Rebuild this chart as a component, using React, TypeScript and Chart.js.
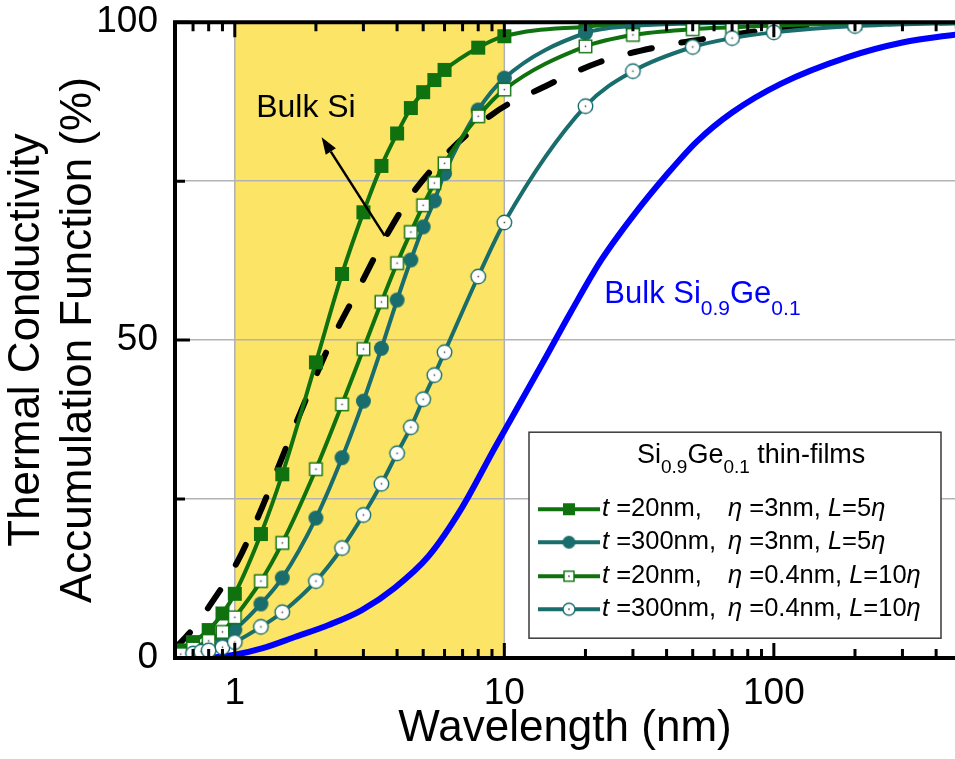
import React, { useEffect, useRef } from 'react';
import { Chart, registerables } from 'chart.js';

Chart.register(...registerables);

const FONT = '"Liberation Sans", Arial, Helvetica, sans-serif';
const GREEN = '#0f720f';
const TEAL = '#1a6d6d';
const BLUE = '#0000ff';
const YELLOW = '#fce566';

// ---- data ----
const X_A = [0.63, 0.7, 0.8, 0.9, 1.0, 1.25, 1.5, 2, 2.5, 3, 3.5, 4, 4.5, 5, 5.5, 6, 8, 10, 20, 30, 50, 70, 100, 200, 500];
const Y_A = [1.2, 2.5, 4.4, 7.0, 10.1, 19.5, 28.9, 46.5, 60.4, 70.1, 77.4, 82.5, 86.5, 89.0, 90.9, 92.5, 96.0, 97.8, 99.3, 99.7, 99.9, 100, 100, 100, 100];

const X_B = [0.63, 0.7, 0.8, 0.9, 1.0, 1.25, 1.5, 2, 2.5, 3, 3.5, 4, 4.5, 5, 5.5, 6, 8, 10, 20, 30, 50, 70, 100, 200, 500];
const Y_B = [0.5, 0.9, 1.6, 2.8, 4.4, 8.5, 12.6, 22.0, 31.5, 40.4, 48.7, 56.3, 62.6, 67.8, 71.9, 76.2, 86.2, 91.2, 98.3, 99.4, 99.8, 99.9, 100, 100, 100];

const X_C = [0.63, 0.7, 0.8, 0.9, 1.0, 1.25, 1.5, 2, 2.5, 3, 3.5, 4, 4.5, 5, 5.5, 6, 8, 10, 20, 30, 50, 70, 100, 200, 500];
const Y_C = [0.6, 1.5, 2.7, 4.1, 6.4, 12.1, 18.1, 29.7, 39.9, 48.6, 56.0, 62.1, 67.0, 71.2, 74.7, 77.8, 85.2, 89.4, 96.2, 98.0, 98.9, 99.2, 99.5, 99.8, 100];

const X_D = [0.7, 0.75, 0.8, 0.9, 1.0, 1.25, 1.5, 2, 2.5, 3, 3.5, 4, 4.5, 5, 5.5, 6, 8, 10, 20, 30, 50, 70, 100, 200, 500];
const Y_D = [0.7, 1.0, 1.2, 1.7, 2.5, 4.9, 7.2, 12.1, 17.3, 22.5, 27.4, 32.2, 36.3, 40.7, 44.5, 48.1, 60.0, 68.5, 86.8, 92.3, 96.1, 97.5, 98.4, 99.4, 99.9];

const X_BULK_SI = [0.6, 0.7, 0.8, 1.03, 1.26, 1.52, 1.88, 2.29, 2.83, 3.57, 4.72, 8.95, 14, 22.5, 37, 60, 106, 200, 500];
const Y_BULK_SI = [1.5, 4.6, 8.0, 15.4, 23.6, 32.2, 41.7, 50.0, 57.5, 65.7, 73.9, 85.4, 89.8, 93.7, 96.1, 97.6, 99.0, 99.7, 100];

const X_BULK_SIGE = [0.8, 1.0, 1.26, 1.67, 2.23, 2.95, 3.91, 5.23, 6.93, 9.2, 13.7, 17.7, 22.9, 30, 40, 52, 70, 106, 188, 300, 500];
const Y_BULK_SIGE = [0, 0.5, 1.5, 3.3, 5.2, 7.5, 11.0, 16.0, 23.5, 33.0, 46.0, 54.5, 62.6, 69.5, 76.0, 81.3, 85.8, 90.3, 94.5, 96.8, 98.2];

const X_TICKS = [1, 10, 100];
const X_MINOR = [0.7, 0.8, 0.9, 2, 3, 4, 5, 6, 7, 8, 9, 20, 30, 40, 50, 60, 70, 80, 90, 200, 300, 400];
const Y_TICKS = [0, 25, 50, 75, 100];
const Y_LABELS = [0, 50, 100];
const Y_MINOR = [25, 75];
const SHADE_RANGE = [1, 10];

const BULK_SI_LABEL = { x: 1.2, y: 85.1 };
const BULK_SIGE_LABEL = { x: 23.5, y: 55.8 };
const ARROW = { x1: 3.6, y1: 66.4, x2: 2.1, y2: 81.9 };

const LEGEND_ROWS = [
  { t: ' =20nm,', eta: ' =3nm, ', l: '=5' },
  { t: ' =300nm,', eta: ' =3nm, ', l: '=5' },
  { t: ' =20nm,', eta: ' =0.4nm, ', l: '=10' },
  { t: ' =300nm,', eta: ' =0.4nm, ', l: '=10' },
];

function pts(xs: number[], ys: number[]) {
  return xs.map((x, i) => ({ x, y: ys[i] }));
}

function makeMarker(kind: string, size: number, color: string) {
  const s = Math.ceil(size) + 4;
  const c = document.createElement('canvas');
  c.width = s;
  c.height = s;
  const g = c.getContext('2d')!;
  const m = s / 2;
  const h = size / 2;
  g.lineWidth = 1.4;
  if (kind === 'fsq') {
    g.fillStyle = color;
    g.fillRect(m - h, m - h, size, size);
  } else if (kind === 'fci') {
    g.fillStyle = color;
    g.beginPath();
    g.arc(m, m, h, 0, Math.PI * 2);
    g.fill();
  } else if (kind === 'osq') {
    g.fillStyle = '#fff';
    g.fillRect(m - h, m - h, size, size);
    g.strokeStyle = color;
    g.strokeRect(m - h, m - h, size, size);
    g.fillStyle = '#444';
    g.fillRect(m - 0.75, m - 0.75, 1.5, 1.5);
  } else {
    g.fillStyle = '#fff';
    g.beginPath();
    g.arc(m, m, h, 0, Math.PI * 2);
    g.fill();
    g.strokeStyle = color;
    g.stroke();
    g.fillStyle = '#444';
    g.fillRect(m - 0.75, m - 0.75, 1.5, 1.5);
  }
  return c;
}

type Part = { text: string; size: number; italic?: boolean; dy?: number };

function drawRich(ctx: CanvasRenderingContext2D, x: number, y: number, parts: Part[], color: string) {
  let cx = x;
  ctx.fillStyle = color;
  ctx.textAlign = 'left';
  for (const p of parts) {
    ctx.font = `${p.italic ? 'italic ' : ''}${p.size}px ${FONT}`;
    ctx.fillText(p.text, cx, y + (p.dy || 0));
    cx += ctx.measureText(p.text).width;
  }
  return cx;
}

export default function App() {
  const ref = useRef<HTMLCanvasElement | null>(null);

  useEffect(() => {
    document.body.style.margin = '0';
    const canvas = ref.current!;

    const mA = makeMarker('fsq', 14, GREEN);
    const mB = makeMarker('fci', 15, TEAL);
    const mC = makeMarker('osq', 12.5, GREEN);
    const mD = makeMarker('oci', 14.5, TEAL);
    const lA = makeMarker('fsq', 12, GREEN);
    const lB = makeMarker('fci', 13, TEAL);
    const lC = makeMarker('osq', 10, GREEN);
    const lD = makeMarker('oci', 12, TEAL);
    const legendMarkers = [lA, lB, lC, lD];
    const legendColors = [GREEN, TEAL, GREEN, TEAL];

    const bgPlugin = {
      id: 'bgShade',
      beforeDraw(chart: any) {
        const { ctx } = chart;
        const xs = chart.scales.x;
        const ys = chart.scales.y;
        const x1 = xs.getPixelForValue(SHADE_RANGE[0]);
        const x2 = xs.getPixelForValue(SHADE_RANGE[1]);
        const t = ys.getPixelForValue(100);
        const b = ys.getPixelForValue(0);
        ctx.save();
        ctx.fillStyle = YELLOW;
        ctx.fillRect(x1, t, x2 - x1, b - t);
        ctx.strokeStyle = '#b0b0b0';
        ctx.lineWidth = 1.5;
        ctx.beginPath();
        ctx.moveTo(x1, t);
        ctx.lineTo(x1, b);
        ctx.moveTo(x2, t);
        ctx.lineTo(x2, b);
        ctx.stroke();
        ctx.restore();
      },
    };

    const overlayPlugin = {
      id: 'overlay',
      afterDatasetsDraw(chart: any) {
        const { ctx, chartArea: a } = chart;
        const xs = chart.scales.x;
        const ys = chart.scales.y;
        ctx.save();

        // arrow
        const ax1 = xs.getPixelForValue(ARROW.x1);
        const ay1 = ys.getPixelForValue(ARROW.y1);
        const ax2 = xs.getPixelForValue(ARROW.x2);
        const ay2 = ys.getPixelForValue(ARROW.y2);
        const ang = Math.atan2(ay2 - ay1, ax2 - ax1);
        const hl = 17;
        const hw = 6;
        const bx = ax2 - hl * Math.cos(ang);
        const by = ay2 - hl * Math.sin(ang);
        ctx.strokeStyle = '#000';
        ctx.lineWidth = 2.5;
        ctx.beginPath();
        ctx.moveTo(ax1, ay1);
        ctx.lineTo(bx, by);
        ctx.stroke();
        ctx.fillStyle = '#000';
        ctx.beginPath();
        ctx.moveTo(ax2, ay2);
        ctx.lineTo(bx + hw * Math.sin(ang), by - hw * Math.cos(ang));
        ctx.lineTo(bx - hw * Math.sin(ang), by + hw * Math.cos(ang));
        ctx.closePath();
        ctx.fill();

        // labels
        ctx.textBaseline = 'alphabetic';
        drawRich(ctx, xs.getPixelForValue(BULK_SI_LABEL.x), ys.getPixelForValue(BULK_SI_LABEL.y),
          [{ text: 'Bulk Si', size: 32 }], '#000');
        drawRich(ctx, xs.getPixelForValue(BULK_SIGE_LABEL.x), ys.getPixelForValue(BULK_SIGE_LABEL.y), [
          { text: 'Bulk Si', size: 31 },
          { text: '0.9', size: 21, dy: 12 },
          { text: 'Ge', size: 31 },
          { text: '0.1', size: 21, dy: 12 },
        ], BLUE);

        // legend
        const L = a.left + 354;
        const T = a.top + 410;
        const W = 412;
        const H = 206;
        ctx.fillStyle = '#fff';
        ctx.fillRect(L, T, W, H);
        ctx.strokeStyle = '#3a3a3a';
        ctx.lineWidth = 1.5;
        ctx.strokeRect(L, T, W, H);
        ctx.textBaseline = 'alphabetic';
        drawRich(ctx, L + 108, T + 31, [
          { text: 'Si', size: 27 },
          { text: '0.9', size: 19, dy: 10 },
          { text: 'Ge', size: 27 },
          { text: '0.1', size: 19, dy: 10 },
          { text: ' thin-films', size: 27 },
        ], '#000');
        const rowY = [77, 110, 144, 177];
        LEGEND_ROWS.forEach((r, i) => {
          const y = T + rowY[i];
          ctx.strokeStyle = legendColors[i];
          ctx.lineWidth = 4;
          ctx.beginPath();
          ctx.moveTo(L + 9, y);
          ctx.lineTo(L + 71, y);
          ctx.stroke();
          const mk = legendMarkers[i];
          ctx.drawImage(mk, L + 40 - mk.width / 2, y - mk.height / 2);
          ctx.textBaseline = 'middle';
          drawRich(ctx, L + 73, y, [{ text: 't', size: 25.5, italic: true }, { text: r.t, size: 25.5 }], '#000');
          drawRich(ctx, L + 199, y, [
            { text: 'η', size: 25.5, italic: true },
            { text: r.eta, size: 25.5 },
            { text: 'L', size: 25.5, italic: true },
            { text: r.l, size: 25.5 },
            { text: 'η', size: 25.5, italic: true },
          ], '#000');
        });

        // frame
        ctx.strokeStyle = '#000';
        ctx.lineWidth = 4;
        ctx.beginPath();
        ctx.moveTo(a.right + 2, a.top);
        ctx.lineTo(a.left, a.top);
        ctx.lineTo(a.left, a.bottom);
        ctx.lineTo(a.right + 2, a.bottom);
        ctx.stroke();

        // inner ticks
        ctx.lineWidth = 3;
        ctx.beginPath();
        const xt = (v: number, len: number) => {
          const px = xs.getPixelForValue(v);
          ctx.moveTo(px, a.bottom);
          ctx.lineTo(px, a.bottom - len);
          ctx.moveTo(px, a.top);
          ctx.lineTo(px, a.top + len);
        };
        X_TICKS.forEach((v) => xt(v, 15));
        X_MINOR.forEach((v) => xt(v, 9));
        const yt = (v: number, len: number) => {
          const py = ys.getPixelForValue(v);
          ctx.moveTo(a.left, py);
          ctx.lineTo(a.left + len, py);
        };
        Y_LABELS.forEach((v) => yt(v, 15));
        Y_MINOR.forEach((v) => yt(v, 10));
        ctx.stroke();
        ctx.restore();
      },
    };

    const lineBase = {
      cubicInterpolationMode: 'monotone' as const,
      fill: false,
    };

    const chart = new Chart(canvas, {
      type: 'line',
      data: {
        datasets: [
          { ...lineBase, label: 't=300nm, η=0.4nm, L=10η', data: pts(X_D, Y_D), borderColor: TEAL, borderWidth: 4, pointStyle: mD as any, pointRadius: 7 },
          { ...lineBase, label: 't=20nm, η=0.4nm, L=10η', data: pts(X_C, Y_C), borderColor: GREEN, borderWidth: 4, pointStyle: mC as any, pointRadius: 7 },
          { ...lineBase, label: 't=300nm, η=3nm, L=5η', data: pts(X_B, Y_B), borderColor: TEAL, borderWidth: 4, pointStyle: mB as any, pointRadius: 7 },
          { ...lineBase, label: 't=20nm, η=3nm, L=5η', data: pts(X_A, Y_A), borderColor: GREEN, borderWidth: 4, pointStyle: mA as any, pointRadius: 7 },
          { ...lineBase, label: 'Bulk Si', data: pts(X_BULK_SI, Y_BULK_SI), borderColor: '#000', borderWidth: 6, borderDash: [22, 30], borderCapStyle: 'round', pointRadius: 0 },
          { ...lineBase, label: 'Bulk Si0.9Ge0.1', data: pts(X_BULK_SIGE, Y_BULK_SIGE), borderColor: BLUE, borderWidth: 6, pointRadius: 0 },
        ],
      },
      options: {
        animation: false,
        responsive: false,
        maintainAspectRatio: false,
        layout: { padding: { top: 22, left: 0, right: 0, bottom: 0 } },
        plugins: { legend: { display: false }, tooltip: { enabled: false } },
        scales: {
          x: {
            type: 'logarithmic',
            min: 0.6,
            max: 470,
            position: 'bottom',
            afterBuildTicks: (s: any) => {
              s.ticks = X_TICKS.map((v) => ({ value: v, major: true }));
            },
            afterFit: (s: any) => {
              s.height = 101;
            },
            grid: { display: true, drawOnChartArea: false, drawTicks: true, tickLength: 14, tickColor: 'rgba(0,0,0,0)', color: 'rgba(0,0,0,0)' },
            border: { display: false },
            ticks: {
              font: { family: FONT, size: 37 },
              color: '#000',
              padding: 0,
              maxRotation: 0,
              autoSkip: false,
              callback: (v: any) => String(v),
            },
            title: {
              display: true,
              text: 'Wavelength (nm)',
              font: { family: FONT, size: 44 },
              color: '#000',
              padding: { top: 0, bottom: 4 },
            },
          },
          y: {
            min: 0,
            max: 100,
            afterBuildTicks: (s: any) => {
              s.ticks = Y_TICKS.map((v) => ({ value: v }));
            },
            afterFit: (s: any) => {
              s.width = 175;
            },
            grid: {
              drawTicks: true,
              tickLength: 17,
              tickColor: 'rgba(0,0,0,0)',
              lineWidth: 1.5,
              color: (c: any) => (c.tick && c.tick.value > 0 && c.tick.value < 100 ? '#b3b3b3' : 'rgba(0,0,0,0)'),
            },
            border: { display: false },
            ticks: {
              font: { family: FONT, size: 37 },
              color: '#000',
              padding: 0,
              callback: (v: any) => (Y_LABELS.includes(Number(v)) ? String(v) : ''),
            },
            title: {
              display: true,
              text: ['Thermal Conductivity', 'Accumulation Function (%)'],
              font: { family: FONT, size: 44 },
              color: '#000',
              padding: { top: 0, bottom: 0 },
            },
          },
        },
      },
      plugins: [bgPlugin, overlayPlugin],
    } as any);

    return () => chart.destroy();
  }, []);

  return (
    <div style={{ width: 955, height: 759, overflow: 'hidden' }}>
      <canvas ref={ref} width={966} height={759} style={{ display: 'block' }} />
    </div>
  );
}
